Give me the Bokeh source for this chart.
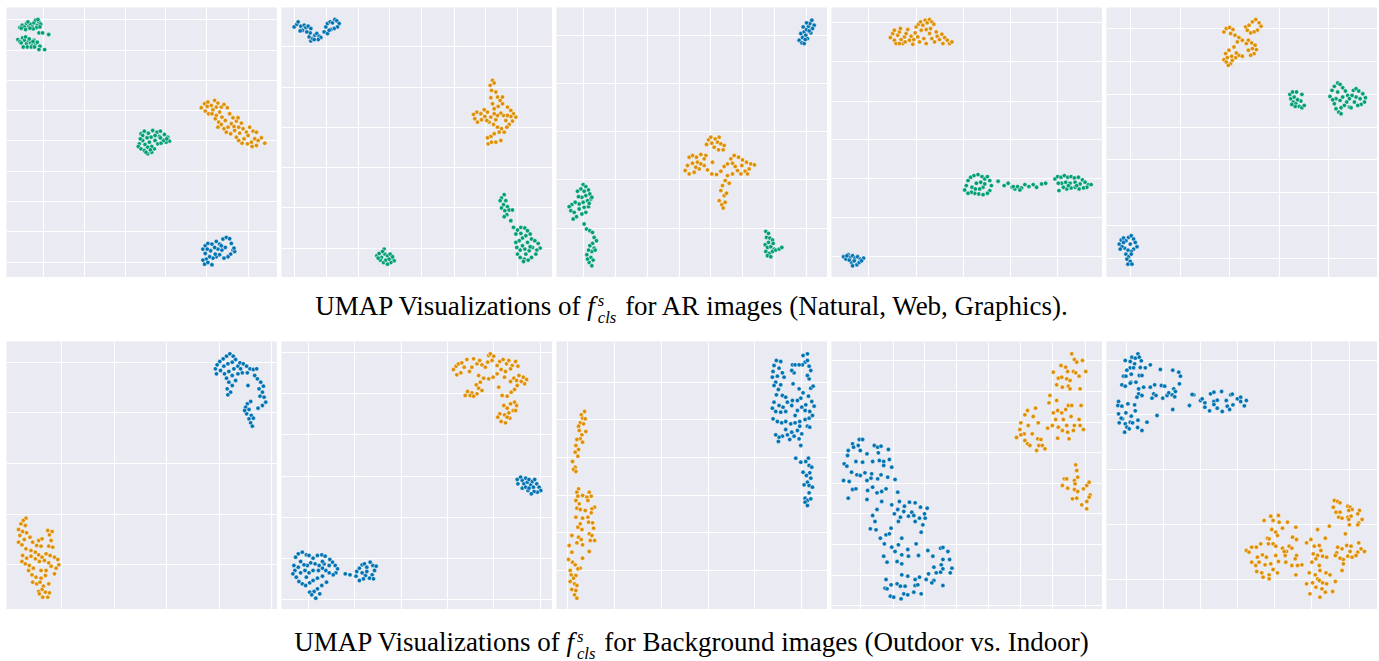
from bokeh.plotting import figure
from bokeh.layouts import column, row
from bokeh.models import Div, Range1d, FixedTicker
from bokeh.embed import file_html
from bokeh.resources import INLINE

# ---------------- colours (seaborn "colorblind") ----------------
BLUE, ORANGE, GREEN = "#0173B2", "#DE8F05", "#029E73"

# ---------------- captions ----------------
CAPTION_AR = ("UMAP Visualizations of", "for AR images (Natural, Web, Graphics).")
CAPTION_BG = ("UMAP Visualizations of", "for Background images (Outdoor vs. Indoor)")

# ================= AR images: Natural (blue), Web (orange), Graphics (green) =================
# ---- panel 1 ----
P1_X_RANGE = (1.8, 82.8)
P1_Y_RANGE = (2.0, 82.8)
P1_X_TICKS = [12.8, 25.0, 37.3, 49.2, 61.6, 74.0]
P1_Y_TICKS = [6.5, 15.7, 24.8, 33.8, 42.9, 52.0, 61.0, 70.0, 79.2]
P1_NATURAL = [(60.5,10.5),(61.2,11.5),(62.0,12.2),(63.2,12.0),(64.5,12.8),(65.5,12.0),(66.5,13.5),(67.5,14.0),(68.5,13.6),(69.0,12.2),(69.5,10.2),(70.0,9.8),(68.8,9.0),(68.0,8.2),(66.8,7.8),(65.5,8.8),(64.5,8.2),(63.5,7.8),(62.5,8.2),(61.5,7.5),(60.5,7.2),(61.0,6.0),(62.0,6.5),(63.2,5.8),(64.2,9.0),(65.0,10.5),(66.2,10.2),(67.2,11.0),(64.0,11.0),(62.8,10.0),(61.2,9.2),(69.8,10.8),(66.0,11.5),(61.8,10.5)]
P1_WEB = [(60.0,52.8),(61.0,54.0),(62.0,54.5),(63.0,53.5),(64.0,55.0),(65.0,54.2),(66.0,53.0),(66.8,53.8),(67.8,52.8),(61.2,51.8),(62.2,51.0),(63.5,52.2),(64.5,50.5),(65.5,51.5),(64.2,49.5),(65.2,48.5),(66.2,50.0),(67.2,49.0),(68.5,51.0),(69.5,49.8),(70.5,48.8),(69.0,48.0),(68.0,47.0),(66.8,46.5),(67.5,45.5),(68.8,45.0),(70.0,46.0),(71.2,47.0),(72.0,48.2),(72.5,46.5),(73.5,45.5),(74.5,47.0),(75.5,45.8),(76.5,45.5),(74.0,44.5),(72.8,43.5),(71.2,43.0),(70.5,44.0),(72.2,42.2),(73.8,42.0),(75.0,42.5),(76.0,43.5),(77.0,43.0),(78.0,43.8),(79.0,42.2),(75.2,41.2),(76.5,41.5),(71.5,45.2),(69.8,47.2),(66.0,47.8),(65.0,47.0),(71.0,49.8),(61.8,53.2),(63.2,51.0),(64.5,53.0)]
P1_GRAPHICS = [(5.8,76.8),(6.5,77.5),(7.2,77.0),(7.8,78.0),(8.5,77.2),(9.0,77.8),(9.5,77.0),(10.0,78.2),(10.5,79.0),(11.0,77.5),(11.5,78.5),(12.0,77.8),(10.8,76.8),(9.8,76.4),(8.8,76.6),(7.5,76.2),(6.2,76.6),(8.2,78.5),(11.2,79.2),(11.8,77.0),(11.5,75.2),(12.6,75.2),(14.4,74.7),(5.2,73.2),(5.8,72.6),(6.6,73.7),(7.2,73.0),(7.8,72.0),(8.4,72.8),(9.0,72.2),(9.5,71.5),(10.0,73.0),(10.5,72.0),(11.0,72.4),(11.8,71.2),(7.5,74.0),(6.2,72.2),(8.0,71.0),(9.2,71.0),(6.8,71.0),(10.2,71.0),(11.5,70.2),(13.2,70.2),(8.6,73.4),(9.7,72.6),
               (42.0,45.0),(43.0,45.8),(44.2,45.2),(45.5,46.0),(46.8,45.5),(47.8,45.8),(49.0,44.8),(50.0,44.0),(50.5,42.8),(49.5,42.5),(48.5,43.2),(47.5,44.2),(46.2,44.5),(45.0,44.0),(43.8,43.8),(42.5,43.0),(41.5,42.0),(41.2,41.2),(42.0,40.5),(43.0,40.0),(44.0,39.0),(45.2,39.5),(46.0,40.5),(47.0,42.0),(48.0,42.2),(48.8,43.0),(44.5,42.5),(43.2,41.8),(45.2,41.2),(42.5,44.5),(44.0,41.0),(46.2,43.0),(47.8,43.8),(41.8,43.5),(43.5,39.5),(44.8,40.2),(49.7,43.5)]

# ---- panel 2 ----
P2_X_RANGE = (1.2, 82.5)
P2_Y_RANGE = (2.0, 82.8)
P2_X_TICKS = [5.0, 14.6, 24.2, 33.7, 43.3, 53.0, 62.5, 72.0]
P2_Y_TICKS = [10.8, 22.8, 35.0, 47.0, 59.0, 71.0]
P2_NATURAL = [(5.0,77.0),(5.8,77.8),(6.2,78.5),(7.0,77.2),(7.5,76.0),(8.0,77.5),(8.5,76.8),(9.2,77.2),(10.0,76.5),(6.8,75.8),(9.5,74.0),(10.0,72.8),(10.5,73.5),(11.2,74.5),(11.8,75.0),(12.5,74.2),(13.0,73.8),(12.2,73.2),(11.0,73.2),(9.8,75.2),(14.0,75.5),(14.5,77.0),(15.0,78.0),(15.8,78.5),(16.5,78.2),(17.2,79.2),(17.8,78.8),(18.5,78.0),(18.0,77.0),(17.0,76.5),(16.0,76.2),(15.0,75.0),(15.5,76.0),(8.8,75.5)]
P2_WEB = [(64.5,61.0),(65.0,60.2),(63.8,59.5),(64.2,58.0),(65.5,57.5),(64.0,55.8),(66.0,56.0),(66.8,55.0),(67.5,54.0),(66.2,53.2),(65.0,52.5),(69.0,53.0),(70.0,52.0),(70.8,51.0),(71.5,50.0),(70.5,48.8),(69.5,47.8),(68.5,49.0),(67.8,50.5),(67.0,51.2),(66.0,50.5),(65.0,51.0),(64.0,50.0),(63.0,51.5),(62.0,52.2),(61.0,51.0),(59.8,51.5),(58.8,50.8),(59.2,49.5),(60.0,48.5),(61.2,49.2),(62.2,50.2),(63.5,48.5),(64.8,47.8),(66.0,47.0),(67.2,46.5),(68.0,45.5),(66.5,45.5),(65.0,45.0),(64.0,44.2),(63.0,43.8),(63.2,42.0),(64.2,42.5),(65.5,42.5),(67.0,43.0),(68.8,47.0),(70.0,50.2),(64.5,54.0),(67.5,56.0),(62.8,49.0),(65.5,49.2),(69.0,50.5)]
P2_GRAPHICS = [(29.8,8.5),(30.5,9.2),(31.2,8.0),(32.0,10.5),(32.2,9.0),(33.0,8.5),(33.8,9.0),(34.5,7.8),(35.0,7.0),(34.0,6.5),(33.0,6.0),(31.8,6.5),(30.8,7.2),(30.2,7.8),(32.5,7.2),(33.5,7.5),(31.5,9.8),(34.5,8.2),
               (68.0,26.8),(67.2,25.8),(66.8,25.0),(68.5,25.0),(67.8,23.8),(69.0,23.2),(67.2,22.8),(68.2,22.0),(69.5,22.2),(70.5,22.2),(68.8,20.8),(68.0,20.2),(70.0,19.0),
               (70.8,17.0),(72.0,16.2),(73.0,17.0),(74.2,16.8),(75.0,16.0),(75.8,15.0),(74.5,14.5),(73.5,13.8),(72.5,13.0),(71.5,12.5),(71.8,11.0),(72.8,10.2),(73.5,11.5),(75.0,12.5),(76.2,13.5),(77.2,13.0),(78.2,12.2),(78.8,10.8),(77.8,10.2),(76.5,11.0),(75.5,10.0),(74.5,9.0),(74.0,7.5),(75.2,7.2),(76.2,8.0),(77.5,9.0),(72.0,9.0),(72.8,8.0),(73.8,6.8),(71.5,15.0),(73.0,15.2),(75.8,11.2),(74.2,10.5)]

# ---- panel 3 ----
P3_X_RANGE = (1.2, 82.5)
P3_Y_RANGE = (2.0, 82.8)
P3_X_TICKS = [9.2, 18.8, 28.4, 38.0, 47.3, 57.0, 66.5, 76.2]
P3_Y_TICKS = [16.8, 31.2, 45.7, 60.0, 74.5]
P3_NATURAL = [(74.0,73.0),(74.8,72.2),(75.5,72.0),(75.0,73.8),(74.5,75.0),(75.5,75.5),(76.0,74.5),(76.5,73.5),(75.8,73.2),(76.2,76.2),(76.8,77.2),(77.2,78.0),(77.8,79.0),(78.5,77.5),(78.0,76.5),(77.5,75.2),(77.0,75.8),(76.2,78.2),(75.2,77.0)]
P3_WEB = [(46.2,41.8),(46.8,43.2),(47.5,44.0),(48.8,43.5),(49.5,42.5),(50.5,42.0),(51.5,41.5),(51.2,40.2),(49.8,40.2),(48.5,41.0),(47.8,42.2),(50.0,44.0),(41.0,38.0),(42.0,38.5),(43.2,38.0),(44.5,38.8),(46.0,38.5),(43.5,36.5),(42.0,36.2),(40.5,35.5),(39.8,34.0),(41.0,33.0),(42.5,33.5),(44.0,34.5),(45.5,35.5),(46.5,34.2),(48.0,36.5),(47.8,33.0),(49.2,32.8),(50.5,33.8),(51.5,35.2),(52.5,36.0),(53.5,37.5),(54.5,38.5),(55.8,38.0),(57.0,37.2),(58.2,36.5),(59.5,36.0),(60.6,35.7),(59.0,34.5),(57.8,33.8),(56.5,33.0),(55.5,34.0),(54.8,35.2),(54.0,33.0),(52.5,32.5),(51.8,31.0),(53.0,30.2),(51.0,29.5),(50.5,28.0),(51.5,26.5),(52.2,27.2),(50.0,25.0),(50.8,23.8),(51.2,22.8),(51.8,24.5),(44.5,36.0),(43.0,35.0),(45.5,37.5),(54.0,36.2),(56.8,35.5),(58.5,33.0)]
P3_GRAPHICS = [(9.2,29.8),(10.0,29.2),(8.5,28.5),(7.5,27.8),(9.5,27.8),(10.8,28.2),(11.2,27.0),(10.0,26.5),(8.8,26.0),(7.8,26.2),(11.5,25.5),(10.5,25.0),(9.2,24.5),(8.0,24.0),(6.8,24.5),(5.8,23.8),(5.0,23.2),(5.5,22.0),(6.5,21.5),(7.2,20.2),(6.2,19.5),(8.0,22.5),(9.5,23.0),(10.8,23.2),(10.0,21.5),(8.8,21.0),(11.0,24.2),(11.8,26.0),(9.5,18.0),(10.2,16.5),(11.2,16.0),(12.0,15.5),(12.5,14.0),(13.2,13.0),(12.0,12.2),(11.2,11.5),(12.5,10.8),(11.8,9.8),(10.8,10.2),(10.3,8.8),(11.5,8.0),(12.2,7.2),(11.0,6.5),(11.8,5.5),(12.8,10.2),(10.5,7.5),
               (64.0,15.8),(64.8,15.2),(64.2,14.0),(65.2,13.8),(66.0,13.2),(64.8,12.5),(63.8,11.8),(64.5,11.0),(65.5,11.2),(66.5,10.5),(64.0,9.8),(65.0,9.2),(66.0,9.8),(67.0,10.2),(68.0,10.5),(68.8,11.0),(64.5,8.5),(65.5,8.2),(66.2,12.2)]

# ---- panel 4 ----
P4_X_RANGE = (1.2, 82.2)
P4_Y_RANGE = (2.0, 82.8)
P4_X_TICKS = [12.4, 26.5, 40.6, 54.8, 68.8]
P4_Y_TICKS = [8.3, 20.0, 31.5, 43.2, 54.8, 66.6, 78.2]
P4_NATURAL = [(4.8,8.2),(5.5,7.5),(6.2,8.8),(6.8,8.0),(7.5,8.5),(8.2,7.8),(9.0,8.2),(9.8,7.5),(10.8,7.8),(7.2,6.5),(8.0,7.0),(8.8,5.8),(9.5,6.5),(6.5,7.2),(5.8,8.5),(10.2,7.0),(7.5,5.5)]
P4_WEB = [(18.8,73.8),(19.5,75.0),(20.0,73.0),(20.5,72.0),(21.0,74.5),(21.5,75.5),(22.0,73.2),(22.5,72.0),(23.0,74.0),(23.5,75.0),(24.0,76.2),(24.5,73.0),(25.0,74.2),(25.5,71.8),(26.2,75.2),(26.5,77.0),(27.2,77.8),(27.8,78.5),(28.5,77.5),(29.2,79.0),(29.8,78.2),(30.5,79.2),(31.2,78.5),(31.8,77.8),(30.8,76.5),(29.5,76.2),(28.0,76.0),(27.0,74.0),(27.5,72.5),(28.8,73.5),(29.5,72.0),(30.5,75.0),(31.2,73.5),(32.0,72.5),(32.8,74.2),(33.5,73.2),(34.2,74.8),(35.0,73.8),(35.8,73.0),(36.5,72.0),(37.2,72.5),(34.5,72.0),(32.5,75.5),(20.0,76.0),(21.8,76.5),(23.2,72.5),(25.8,73.2),(21.5,72.0)]
P4_GRAPHICS = [(41.0,28.2),(41.5,29.5),(42.0,31.0),(42.8,32.0),(43.8,32.5),(45.0,32.8),(46.2,32.2),(47.0,31.5),(47.8,32.2),(48.5,31.0),(49.0,29.5),(48.5,28.0),(47.8,27.2),(46.5,26.8),(45.2,27.0),(44.0,27.2),(43.0,27.5),(42.0,27.2),(43.2,29.0),(44.5,30.2),(45.8,30.5),(46.5,29.0),(44.2,28.5),(45.5,28.5),(47.0,30.0),
               (51.0,30.8),(52.8,29.5),(54.0,30.2),(55.2,29.0),(56.0,28.5),(56.8,29.2),(58.0,28.8),(59.0,29.8),(60.2,29.2),(61.5,29.8),(62.5,29.0),(64.0,30.0),(65.2,30.2),(57.5,28.2),(55.5,29.2),
               (68.0,31.5),(68.8,32.2),(69.8,32.0),(70.8,32.5),(71.8,32.0),(72.8,32.2),(73.8,31.8),(75.0,32.0),(76.2,31.2),(77.0,30.5),(78.0,29.8),(78.8,29.8),(77.5,29.0),(76.5,28.8),(75.2,28.5),(74.0,29.0),(72.8,28.8),(71.5,28.5),(70.5,29.0),(69.2,28.0),(70.0,30.2),(71.2,30.5),(72.5,30.2),(74.0,30.5),(75.5,30.0),(69.0,30.2),(72.0,29.5),(74.5,29.5)]

# ---- panel 5 ----
P5_X_RANGE = (1.4, 82.4)
P5_Y_RANGE = (2.0, 82.8)
P5_X_TICKS = [8.5, 23.5, 38.2, 53.0, 67.7]
P5_Y_TICKS = [7.8, 17.7, 27.5, 37.2, 47.0, 56.7, 66.7, 76.5]
P5_NATURAL = [(5.2,12.0),(5.8,13.2),(6.5,13.8),(7.2,13.0),(8.0,14.0),(8.8,14.5),(9.5,13.5),(10.0,12.5),(10.5,11.2),(9.5,10.5),(8.8,9.8),(7.8,10.2),(6.8,10.8),(6.0,11.2),(5.5,10.5),(7.2,9.0),(8.0,8.2),(8.8,9.0),(7.5,7.5),(8.5,6.8),(7.8,6.0),(9.0,6.0),(6.5,12.5),(8.5,12.0)]
P5_WEB = [(36.5,75.5),(37.2,76.5),(38.2,76.8),(39.2,76.2),(38.5,75.0),(39.8,74.5),(41.0,73.8),(42.0,73.0),(40.5,72.5),(39.5,71.0),(38.0,70.0),(37.0,69.0),(36.5,67.2),(37.2,66.5),(38.5,66.0),(39.0,67.0),(40.0,67.8),(41.0,68.5),(40.2,69.2),(38.8,68.2),(37.5,67.8),(43.0,77.0),(44.0,77.5),(45.0,78.5),(46.0,79.2),(47.0,78.2),(47.6,77.2),(46.5,76.0),(45.5,75.5),(44.5,75.2),(43.5,76.0),(43.8,73.0),(44.8,72.2),(45.8,71.5),(46.2,70.2),(45.5,69.0),(44.5,68.5),(43.8,70.0),(45.0,70.5),(42.0,68.2),(43.2,72.0),(37.8,65.5)]
P5_GRAPHICS = [(56.2,56.8),(57.0,57.5),(58.2,57.5),(56.5,55.5),(57.5,56.0),(57.2,54.5),(58.0,54.0),(59.0,53.2),(59.8,52.8),(60.5,53.5),(59.5,54.8),(58.5,55.2),(59.8,56.8),(57.8,53.2),(56.8,53.8),
               (68.2,56.2),(68.8,58.0),(69.5,59.2),(70.5,60.2),(71.2,59.8),(72.0,58.8),(72.8,57.8),(73.5,56.5),(74.0,55.5),(73.2,54.5),(72.5,53.5),(71.5,52.8),(70.8,51.5),(70.0,52.5),(69.5,54.0),(70.0,55.5),(71.2,55.0),(72.0,56.0),(69.0,55.2),(70.5,57.5),(74.0,53.0),(75.2,58.0),(76.0,58.5),(76.8,57.8),(78.0,57.0),(78.8,55.8),(78.5,54.5),(77.5,53.8),(76.5,53.5),(75.5,54.5),(76.0,56.0),(77.2,55.5),(74.8,56.5),(74.5,52.8),(71.5,51.0)]

# ================= Background images: Outdoor (blue), Indoor (orange) =================
# ---- panel 6 ----
P6_X_RANGE = (2.2, 83.0)
P6_Y_RANGE = (2.8, 83.2)
P6_X_TICKS = [18.7, 34.4, 50.0, 65.8, 81.2]
P6_Y_TICKS = [16.2, 31.3, 46.5, 61.8, 77.0]
P6_OUTDOOR = [(64.5,75.0),(65.0,76.2),(65.8,77.2),(66.8,78.0),(67.8,78.8),(68.8,79.5),(69.8,78.8),(70.5,77.8),(69.5,77.0),(68.2,76.5),(67.0,75.8),(66.0,74.5),(64.8,73.5),(67.2,73.5),(68.5,74.2),(70.0,75.0),(71.2,75.8),(71.8,76.8),(72.8,76.5),(73.8,75.8),(74.8,75.0),(75.8,74.8),(76.8,75.0),(74.0,73.8),(72.5,73.8),(71.2,73.5),(69.5,73.0),(67.8,72.2),(68.5,71.0),(69.5,70.0),(68.0,69.0),(69.0,68.0),(68.2,67.2),(74.2,70.0),(70.5,71.5),(77.0,72.0),(78.0,71.0),(78.8,69.8),(77.5,69.0),(78.5,68.0),(77.8,66.8),(79.0,66.5),(79.5,65.0),(78.5,64.0),(77.2,63.2),(75.0,65.2),(74.0,64.5),(73.5,63.5),(74.5,62.8),(73.8,61.5),(75.2,61.0),(74.5,60.0),(75.8,60.2),(75.0,58.8),(75.5,57.8),(73.2,62.5),(76.2,73.0),(72.0,75.0)]
P6_INDOOR = [(8.0,30.2),(7.2,29.5),(6.5,28.5),(7.8,28.0),(5.8,26.8),(7.0,26.2),(8.2,25.8),(6.2,25.0),(9.2,24.5),(7.5,23.8),(5.8,23.0),(6.8,22.2),(14.5,26.5),(15.8,26.2),(15.0,25.2),(15.5,23.5),(14.8,21.8),(16.0,21.5),(10.0,23.0),(11.8,23.5),(12.8,24.0),(11.2,22.0),(12.5,21.8),(8.0,21.0),(9.5,20.5),(10.8,20.0),(11.8,19.2),(12.8,18.5),(14.0,19.5),(15.2,19.0),(16.5,18.5),(17.5,17.8),(17.8,16.2),(17.0,15.2),(16.5,13.5),(15.5,15.8),(14.8,16.8),(13.5,17.5),(12.0,17.2),(10.8,18.0),(9.5,18.8),(8.2,18.2),(7.0,19.0),(6.8,17.2),(7.8,16.5),(9.0,16.0),(10.2,15.2),(8.8,14.5),(9.8,13.2),(11.0,12.5),(12.5,12.2),(13.8,13.0),(14.0,14.5),(12.5,14.5),(10.0,11.0),(11.2,10.5),(12.2,11.0),(13.2,9.8),(14.8,10.5),(12.8,8.8),(11.8,8.2),(13.8,8.0),(15.0,7.8),(14.5,6.5),(13.0,6.5),(12.0,7.5)]

# ---- panel 7 ----
P7_X_RANGE = (1.8, 82.5)
P7_Y_RANGE = (2.8, 83.2)
P7_X_TICKS = [9.8, 23.6, 37.4, 51.2, 65.0, 78.8]
P7_Y_TICKS = [5.8, 18.2, 30.5, 42.8, 55.2, 67.5, 79.8]
P7_OUTDOOR = [(72.0,41.8),(72.2,40.5),(73.0,42.5),(73.5,41.5),(74.0,40.5),(73.5,39.2),(74.5,42.2),(75.0,41.0),(75.5,41.8),(76.0,40.2),(76.5,41.2),(77.2,41.8),(77.8,40.5),(78.5,39.5),(79.0,38.5),(78.0,38.0),(77.0,38.2),(76.2,37.5),(75.2,38.5),(74.5,39.5),(76.8,39.5),(75.5,39.2),
              (5.5,16.0),(6.0,18.5),(6.8,19.5),(8.0,20.0),(9.2,19.2),(10.0,19.0),(11.2,18.2),(12.5,19.0),(13.8,19.2),(14.8,18.8),(16.2,17.8),(17.0,17.0),(17.8,16.0),(18.5,15.0),(18.0,13.8),(17.2,13.2),(16.0,13.8),(15.0,14.5),(14.0,15.2),(13.0,16.0),(11.8,16.5),(10.5,16.8),(9.5,16.0),(8.5,16.2),(7.5,17.2),(6.8,15.5),(5.8,14.5),(5.2,13.5),(6.2,12.5),(7.0,11.2),(8.0,10.5),(9.0,10.0),(10.2,10.8),(11.2,11.5),(12.5,12.2),(14.0,12.8),(15.2,11.0),(13.8,10.0),(12.5,9.0),(11.5,8.2),(10.2,8.0),(10.8,7.2),(12.0,6.2),(13.2,7.5),(8.8,14.5),(10.0,13.8),(11.2,14.5),(12.8,14.5),(14.5,16.5),(16.0,16.0),(7.5,13.8),(9.2,12.5),(14.0,17.2),
              (20.8,13.5),(22.2,13.2),
              (24.0,12.8),(24.2,14.2),(25.0,15.2),(25.8,16.2),(26.5,16.5),(27.2,15.5),(28.2,17.0),(29.0,16.0),(30.0,15.8),(29.5,14.5),(28.8,13.2),(28.0,12.2),(26.8,13.0),(25.8,13.8),(25.0,11.5),(26.2,12.0),(27.2,14.2),(29.2,12.0)]
P7_INDOOR = [(53.0,74.8),(53.8,75.8),(54.5,76.5),(55.5,76.8),(56.2,75.5),(55.2,73.8),(54.0,73.2),(57.0,77.8),(57.8,74.2),(58.5,75.5),(59.0,78.0),(60.0,76.5),(60.8,77.5),(61.5,76.2),(62.5,75.5),(63.5,79.0),(64.0,79.5),(65.0,78.8),(64.5,77.5),(63.2,77.0),(66.0,76.0),(66.8,77.2),(67.8,77.8),(68.8,76.5),(69.5,77.5),(70.5,76.0),(71.5,77.2),(72.2,75.8),(70.0,75.0),(68.5,74.2),(67.2,74.8),(66.0,73.5),(64.8,72.5),(63.5,72.0),(62.0,72.2),(61.0,71.0),(59.8,70.2),(60.5,69.2),(61.5,68.5),(60.0,67.5),(58.5,67.8),(57.2,68.2),(58.0,67.0),(59.0,66.8),(56.5,67.0),(60.5,73.0),(66.5,69.5),(67.5,67.0),(69.0,66.8),(70.2,68.0),(71.2,68.8),(72.0,70.0),(73.2,71.2),(74.2,70.5),(74.8,71.8),(73.8,72.5),(72.5,73.0),(71.0,72.2),(70.0,71.2),(71.8,71.5),(68.2,72.5),(68.0,64.0),(69.0,63.2),(70.0,64.5),(71.2,65.0),(71.8,64.0),(70.8,62.5),(69.5,61.8),(68.2,61.2),(66.8,61.5),(66.2,60.5),(67.2,59.2),(68.5,58.8),(69.8,60.2),(71.5,62.5),(69.0,60.5)]

# ---- panel 8 ----
P8_X_RANGE = (1.4, 82.5)
P8_Y_RANGE = (2.8, 83.2)
P8_X_TICKS = [4.7, 18.8, 32.8, 46.8, 60.8, 74.8]
P8_Y_TICKS = [14.5, 25.8, 37.0, 48.3, 59.7, 71.0]
P8_OUTDOOR = [(67.2,77.5),(68.5,77.2),(66.5,76.0),(68.0,75.2),(66.2,74.2),(69.0,73.8),(67.5,72.8),(66.0,72.5),(69.5,72.5),(67.0,71.0),(68.5,70.2),(66.5,70.0),(67.8,68.8),(69.0,67.0),(67.2,67.2),(70.0,66.5),(66.5,65.0),(68.0,64.0),(69.2,63.5),(70.5,65.0),(72.0,65.5),(71.8,64.0),(70.0,62.2),(68.5,62.0),(67.0,62.2),(66.0,63.2),(66.2,60.0),(67.5,59.2),(68.8,58.8),(70.0,59.2),(71.5,58.5),(72.8,58.8),(74.2,59.2),(75.8,59.8),(77.0,60.2),(78.0,61.0),(77.2,62.2),(78.5,63.8),(77.8,65.2),(76.8,66.8),(77.5,69.2),(78.2,69.8),(77.0,72.0),(76.5,73.0),(77.5,74.5),(77.0,75.8),(75.8,77.0),(76.5,77.5),(75.2,79.0),(76.5,79.5),(75.0,76.2),(72.0,76.2),(72.8,76.2),(74.0,76.2),(72.5,73.8),(71.8,74.5),(72.2,70.5),(74.0,69.0),(75.2,67.8),(74.5,66.2),(73.5,65.5),(76.0,64.2),(74.8,63.5),(73.5,62.5),(72.8,61.0),(75.8,62.5),(76.5,57.8),(77.2,57.5),(74.2,57.8),(73.5,56.5),(71.8,56.0),(70.5,55.2),(69.0,54.8),(68.0,54.5),(67.0,55.2),(67.8,53.2),(70.0,56.8),(71.2,53.8),(72.5,54.8),(74.0,54.0),(74.8,55.5),(74.5,52.0),(73.0,48.2),(74.5,47.0),(76.0,47.2),(76.8,48.2),(77.0,46.0),(77.8,45.5),(77.2,43.8),(76.2,43.0),(77.5,42.2),(76.5,41.0),(77.0,40.0),(78.0,39.5),(77.0,37.8),(75.8,36.2),(76.5,35.5),(77.5,36.0),(75.8,35.0),(76.5,34.0),(75.2,44.0),(75.5,40.2)]
P8_INDOOR = [(9.8,62.2),(8.8,61.2),(9.2,60.2),(10.0,60.0),(8.5,58.8),(9.5,58.5),(8.0,57.8),(10.2,56.2),(8.2,56.5),(9.0,55.2),(8.5,54.0),(7.5,53.8),(9.2,53.0),(7.2,52.0),(8.0,50.8),(7.0,50.0),(7.8,48.8),(6.2,47.2),(7.0,45.5),(6.5,44.8),(7.2,44.2),
             (8.0,39.0),(7.5,38.0),(11.2,38.0),(11.8,36.8),(7.8,36.8),(9.2,37.0),(10.5,36.5),(10.8,35.5),(7.2,35.5),(8.2,34.5),(12.8,33.5),(12.0,33.0),(7.5,33.2),(8.5,32.8),(10.0,32.5),(11.8,31.8),(10.8,30.5),(7.2,30.5),(9.2,30.2),(11.0,29.0),(12.2,28.8),(8.5,28.5),(7.8,27.5),(12.5,27.2),(9.0,26.8),(11.2,25.5),(12.0,25.0),(6.0,25.0),(8.0,24.5),(8.8,23.8),(11.5,23.5),(12.8,23.5),(7.5,22.8),(9.2,22.2),(5.2,22.0),(11.2,20.2),(6.0,20.0),(9.2,18.2),(5.0,17.8),(6.2,17.0),(7.0,16.2),(8.5,15.2),(7.8,15.0),(5.5,14.5),(5.8,13.2),(7.2,13.0),(6.5,12.2),(5.5,11.2),(6.8,10.5),(7.5,10.0),(6.0,8.8),(7.2,8.5),(6.8,7.2),(7.5,6.2)]

# ---- panel 9 ----
P9_X_RANGE = (1.2, 82.2)
P9_Y_RANGE = (2.8, 83.2)
P9_X_TICKS = [10.0, 19.6, 29.0, 38.6, 48.2, 57.8, 67.4, 77.0]
P9_Y_TICKS = [4.0, 13.0, 22.3, 31.5, 40.7, 49.8, 59.0, 68.2, 77.5]
P9_OUTDOOR = [(9.5,53.8),(10.5,53.8),(7.5,52.5),(6.2,50.5),(7.8,51.5),(9.2,52.0),(9.8,50.5),(14.0,52.0),(15.0,51.5),(16.0,51.8),(18.2,50.8),(11.8,49.5),(15.2,49.8),(6.0,49.0),(8.5,47.2),(10.5,47.0),(13.5,47.2),(15.5,47.5),(16.8,47.2),(18.5,47.8),(5.0,46.5),(5.8,45.8),(7.2,44.0),(8.8,43.2),(9.8,43.0),(11.2,43.8),(13.2,43.5),(16.0,43.2),(18.0,42.5),(19.2,45.5),(16.8,46.0),(4.8,41.5),(6.5,41.2),(11.8,41.5),(13.0,42.2),(15.0,42.0),(20.2,41.8),(7.5,38.8),(8.5,39.0),(12.0,38.5),(13.5,39.5),(14.8,37.8),(16.2,38.2),(17.5,39.0),(21.0,38.0),(6.2,36.2),(11.8,35.8),(16.2,35.2),(19.2,34.2),(21.5,35.2),(23.0,33.8),(24.5,35.0),(26.2,34.8),(27.8,33.5),(29.8,33.2),(14.8,32.8),(21.0,32.8),(22.8,32.2),(25.2,32.0),(29.0,31.5),(13.5,31.0),(20.0,31.5),(21.8,30.5),(24.2,30.8),(25.8,31.0),(27.5,30.2),(29.2,30.2),(14.2,29.2),(21.2,29.2),(26.2,29.2),(28.5,28.2),(12.8,27.0),(14.5,26.7),(19.0,27.2),(28.0,26.0),(15.8,24.2),(17.5,25.2),(18.5,25.5),(22.2,24.2),(17.0,22.5),(19.2,21.5),(21.2,22.2),(24.0,20.8),(26.5,22.5),(30.0,20.5),(31.5,18.8),(33.8,21.2),(34.5,21.4),(36.0,20.2),(20.2,20.2),(22.2,19.2),(16.8,18.8),(24.2,18.8),(27.2,19.0),(17.8,17.0),(20.8,17.2),(22.2,16.5),(34.5,17.8),(36.5,17.8),(34.0,16.2),(31.8,15.5),(37.2,15.2),(30.2,13.5),(32.5,13.8),(33.8,14.0),(22.2,13.2),(24.0,12.8),(26.2,11.8),(27.5,12.5),(29.5,11.8),(31.8,11.5),(31.2,10.8),(34.5,10.0),(17.5,11.8),(19.0,10.2),(20.8,10.5),(21.8,9.8),(23.2,9.8),(26.2,10.0),(27.0,10.2),(17.2,9.2),(17.8,9.0),(18.8,6.8),(19.8,6.5),(22.8,7.5),(24.0,7.2),(25.8,8.0),(28.0,7.5),(22.0,6.0),(36.7,13.8),(34.5,15.0)]
P9_INDOOR = [(73.0,79.5),(73.8,77.8),(74.5,77.0),(76.2,77.5),(69.8,76.0),(71.2,75.5),(67.5,74.0),(69.0,72.2),(70.0,72.5),(71.8,74.2),(73.5,74.2),(74.2,73.8),(77.2,74.2),(75.2,72.8),(71.5,72.0),(72.5,71.5),(68.5,70.2),(70.2,69.5),(72.0,69.8),(72.5,69.0),(75.5,69.0),
             (66.5,67.0),(66.2,64.8),(68.5,65.5),(62.2,63.2),(59.8,62.5),(59.0,61.2),(61.5,60.7),(57.8,58.8),(60.0,58.0),(63.0,58.8),(57.5,56.8),(58.8,55.5),(57.8,55.2),(61.2,55.5),(56.5,54.4),(59.0,53.5),(59.8,52.5),(60.5,52.0),(62.8,54.0),(63.8,53.8),(63.2,52.0),(64.2,52.0),(62.5,50.5),(65.0,51.0),(67.5,61.8),(68.8,62.5),(70.0,61.8),(71.2,62.8),(72.0,64.0),(73.0,64.0),(75.8,64.0),(68.2,59.8),(70.5,59.8),(72.8,60.7),(75.2,59.8),(67.2,58.0),(69.0,57.5),(71.5,58.0),(73.8,58.0),(75.5,58.0),(70.2,56.5),(71.8,56.0),(73.5,56.5),(76.5,56.8),(65.8,57.2),(68.8,54.2),(72.2,54.0),
             (74.2,46.2),(74.5,44.5),(70.8,42.0),(71.5,42.0),(73.8,41.5),(74.8,42.5),(74.0,40.5),(70.2,40.0),(71.8,39.2),(73.8,38.8),(74.8,38.2),(76.5,39.0),(77.5,40.0),(78.2,41.0),(78.5,37.2),(78.2,36.5),(74.5,36.2),(73.2,36.0),(77.5,35.2),(76.0,34.2),(77.5,33.0)]

# ---- panel 10 ----
P10_X_RANGE = (1.4, 82.4)
P10_Y_RANGE = (2.8, 83.2)
P10_X_TICKS = [7.3, 18.4, 29.5, 40.6, 51.7, 62.8, 74.0]
P10_Y_TICKS = [11.7, 28.2, 44.7, 61.2, 77.5]
P10_OUTDOOR = [(10.8,79.5),(9.0,78.5),(10.0,78.2),(11.2,78.5),(7.0,77.5),(8.5,77.2),(11.8,77.4),(9.8,76.5),(14.5,76.2),(8.5,75.3),(9.5,75.3),(11.5,75.4),(13.0,75.3),(7.5,74.6),(17.5,74.8),(21.2,74.6),(23.0,74.0),(6.5,72.8),(8.8,73.4),(11.2,73.0),(12.0,73.0),(23.5,72.8),(7.2,72.8),(10.2,71.0),(8.7,71.0),(6.0,70.2),(7.0,69.8),(8.5,70.7),(11.0,69.0),(12.5,69.5),(14.5,69.5),(15.8,70.2),(17.8,70.0),(18.8,69.8),(21.5,69.0),(23.2,70.5),(11.0,67.5),(10.5,66.5),(12.0,67.0),(15.5,67.5),(15.0,66.2),(16.2,67.0),(18.2,66.2),(19.5,67.0),(21.0,67.2),(22.0,68.2),(20.0,67.8),(21.8,66.6),(5.0,65.2),(4.8,64.0),(7.8,64.5),(9.8,64.2),(6.0,63.8),(7.2,61.8),(10.0,62.4),(21.2,62.8),(5.0,61.5),(8.8,60.8),(6.2,60.0),(10.8,59.6),(16.5,61.0),(13.5,59.0),(5.2,58.8),(7.0,58.5),(8.5,59.0),(9.2,58.8),(7.5,57.5),(8.2,57.0),(6.8,56.0),(10.7,57.4),(12.0,56.5),(5.8,60.2),
               (26.2,64.0),(27.5,67.2),(29.5,65.5),(30.0,66.0),(30.8,64.8),(30.8,63.5),(32.2,62.4),(32.5,67.5),(33.5,68.0),(33.5,65.2),(33.5,64.3),(34.5,65.6),(34.5,63.2),(35.8,68.2),(36.0,62.2),(37.2,65.5),(37.5,63.8),(38.2,62.8),(38.5,67.2),(39.0,67.4),(39.2,64.2),(40.5,66.0),(41.5,66.5),(41.5,65.2),(42.6,63.9),(43.2,65.5),(27.0,67.3)]
P10_INDOOR = [(48.5,29.5),(50.5,30.8),(52.8,31.0),(51.2,29.5),(53.0,29.0),(55.5,29.0),(50.8,26.8),(54.0,27.2),(52.0,26.0),(58.0,27.5),(49.5,24.2),(50.0,24.0),(52.5,25.0),(57.0,24.5),(58.2,23.8),(43.2,20.5),(44.0,20.0),(44.8,21.5),(46.2,21.5),(47.5,22.5),(49.8,22.5),(51.2,22.5),(52.0,21.8),(54.0,21.2),(55.2,20.2),(56.0,21.8),(54.8,19.0),(52.0,19.0),(49.2,18.5),(48.0,19.2),(46.5,18.5),(44.8,17.0),(47.0,17.0),(48.8,16.2),(50.5,16.5),(52.8,17.2),(55.0,17.0),(56.8,16.0),(58.2,19.0),(57.8,18.0),(59.8,16.2),(58.5,16.0),(46.0,16.0),(46.3,14.2),(47.8,13.8),(50.0,13.2),(51.2,14.8),(52.5,13.8),(58.0,13.2),(48.2,12.5),(50.0,12.0),(54.5,20.2),(56.8,21.2),
              (62.5,23.8),(64.5,26.8),(66.8,24.2),(61.2,22.8),(63.5,21.8),(65.0,22.0),(65.5,20.5),(63.2,19.5),(64.5,19.0),(66.0,18.8),(64.0,18.0),(62.8,17.0),(65.0,16.0),(67.2,18.5),(62.0,13.8),(63.8,13.2),(65.2,14.5),(67.0,13.8),(68.2,13.2),(64.5,12.0),(63.0,10.8),(65.0,11.5),(66.0,10.8),(67.2,10.5),(69.8,11.2),(61.2,10.5),(64.0,9.5),(65.8,9.0),(66.8,8.0),(69.0,8.2),(62.2,7.5),(65.2,6.5),(68.0,27.8),
              (69.5,35.5),(70.5,35.2),(71.2,34.8),(69.2,33.5),(70.0,32.0),(71.2,32.0),(73.5,33.8),(74.2,33.5),(74.8,32.8),(73.8,32.5),(77.0,32.5),(70.8,30.5),(71.8,30.2),(73.5,30.5),(74.5,30.8),(76.5,31.5),(77.8,29.8),(73.8,29.8),(74.0,28.2),(76.8,28.8),(76.5,28.2),(72.8,25.5),
              (70.5,21.5),(71.8,21.0),(73.2,22.0),(74.5,21.8),(76.8,22.8),(77.5,21.0),(78.5,20.2),(76.5,20.0),(75.8,19.0),(74.8,18.5),(73.5,18.8),(72.2,17.8),(71.2,18.2),(70.2,19.8),(69.8,19.0),(72.2,16.5),(71.8,14.5),(74.2,20.2),(76.0,19.0)]


def make_panel(xr, yr, xt, yt, series, height):
    p = figure(width=271, height=height, x_range=Range1d(*xr), y_range=Range1d(*yr),
               output_backend="svg", toolbar_location=None, min_border=0,
               background_fill_color="#EAEAF2", border_fill_color="white",
               outline_line_color=None)
    p.xaxis.ticker = FixedTicker(ticks=xt)
    p.yaxis.ticker = FixedTicker(ticks=yt)
    p.axis.visible = False
    p.xgrid.ticker = FixedTicker(ticks=xt)
    p.ygrid.ticker = FixedTicker(ticks=yt)
    p.grid.grid_line_color = "white"
    p.grid.grid_line_width = 1.1
    for pts, color in series:
        p.scatter([a for a, b in pts], [b for a, b in pts], marker="circle", size=4.4,
                  fill_color=color, line_color="white", line_width=0.5)
    return p


top_panels = [
    make_panel(P1_X_RANGE, P1_Y_RANGE, P1_X_TICKS, P1_Y_TICKS, [(P1_NATURAL, BLUE), (P1_WEB, ORANGE), (P1_GRAPHICS, GREEN)], 270),
    make_panel(P2_X_RANGE, P2_Y_RANGE, P2_X_TICKS, P2_Y_TICKS, [(P2_NATURAL, BLUE), (P2_WEB, ORANGE), (P2_GRAPHICS, GREEN)], 270),
    make_panel(P3_X_RANGE, P3_Y_RANGE, P3_X_TICKS, P3_Y_TICKS, [(P3_NATURAL, BLUE), (P3_WEB, ORANGE), (P3_GRAPHICS, GREEN)], 270),
    make_panel(P4_X_RANGE, P4_Y_RANGE, P4_X_TICKS, P4_Y_TICKS, [(P4_NATURAL, BLUE), (P4_WEB, ORANGE), (P4_GRAPHICS, GREEN)], 270),
    make_panel(P5_X_RANGE, P5_Y_RANGE, P5_X_TICKS, P5_Y_TICKS, [(P5_NATURAL, BLUE), (P5_WEB, ORANGE), (P5_GRAPHICS, GREEN)], 270),
]
bottom_panels = [
    make_panel(P6_X_RANGE, P6_Y_RANGE, P6_X_TICKS, P6_Y_TICKS, [(P6_OUTDOOR, BLUE), (P6_INDOOR, ORANGE)], 268),
    make_panel(P7_X_RANGE, P7_Y_RANGE, P7_X_TICKS, P7_Y_TICKS, [(P7_OUTDOOR, BLUE), (P7_INDOOR, ORANGE)], 268),
    make_panel(P8_X_RANGE, P8_Y_RANGE, P8_X_TICKS, P8_Y_TICKS, [(P8_OUTDOOR, BLUE), (P8_INDOOR, ORANGE)], 268),
    make_panel(P9_X_RANGE, P9_Y_RANGE, P9_X_TICKS, P9_Y_TICKS, [(P9_OUTDOOR, BLUE), (P9_INDOOR, ORANGE)], 268),
    make_panel(P10_X_RANGE, P10_Y_RANGE, P10_X_TICKS, P10_Y_TICKS, [(P10_OUTDOOR, BLUE), (P10_INDOOR, ORANGE)], 268),
]

TOTAL_W = 5 * 271 + 4 * 4

MATH = ('<i>f</i><span style="display:inline-block;vertical-align:-0.45em;line-height:1.0;'
        'font-size:0.62em;text-align:left;margin-left:3px;margin-right:2px"><i>s</i><br><i>cls</i></span>')


def caption(parts, height, pad):
    html = ('<div style="width:%dpx;text-align:center;font-family:\'Liberation Serif\',\'Times New Roman\',serif;'
            'font-size:27px;line-height:30px;color:#000;padding-top:%dpx;white-space:nowrap">%s %s %s</div>'
            % (TOTAL_W, pad, parts[0], MATH, parts[1]))
    return Div(text=html, width=TOTAL_W, height=height, margin=0)


layout = column(
    row(*top_panels, spacing=4),
    caption(CAPTION_AR, 64, 14),
    row(*bottom_panels, spacing=4),
    caption(CAPTION_BG, 50, 18),
    spacing=0,
    margin=(7, 0, 0, 6),
)

open("out.html", "w").write(file_html(layout, INLINE))
